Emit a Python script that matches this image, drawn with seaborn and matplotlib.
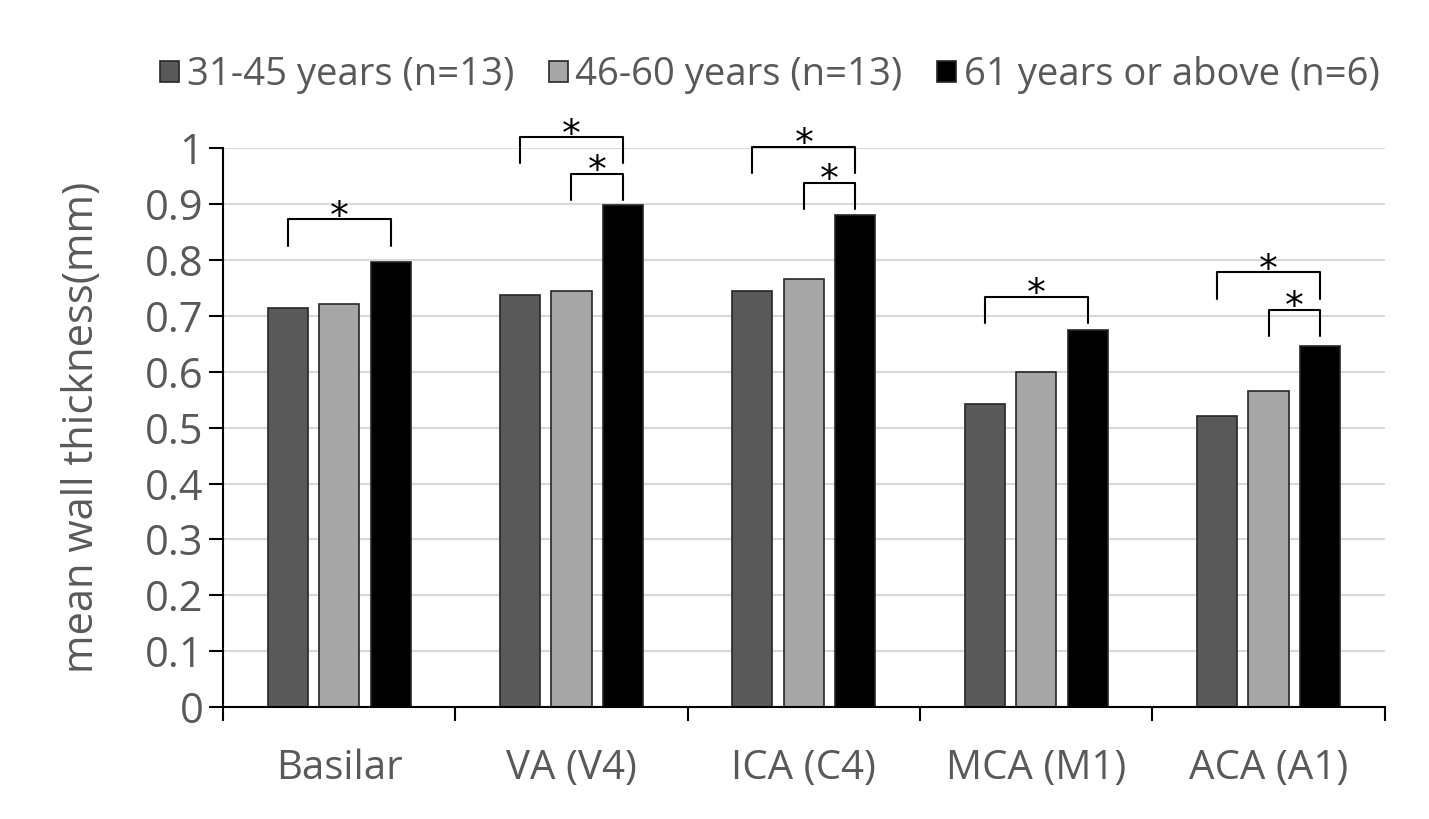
import matplotlib
matplotlib.use('Agg')
import pandas as pd
import matplotlib.pyplot as plt
import seaborn as sns
from matplotlib.patches import Patch

# data
arteries = ['Basilar', 'VA (V4)', 'ICA (C4)', 'MCA (M1)', 'ACA (A1)']
groups = ['31-45 years (n=13)', '46-60 years (n=13)', '61 years or above (n=6)']
age_31_45 = [0.714, 0.737, 0.744, 0.542, 0.521]
age_46_60 = [0.721, 0.744, 0.766, 0.599, 0.565]
age_61_up = [0.796, 0.898, 0.880, 0.674, 0.646]

y_ticks = [0, 0.1, 0.2, 0.3, 0.4, 0.5, 0.6, 0.7, 0.8, 0.9, 1.0]
y_tick_labels = ['0', '0.1', '0.2', '0.3', '0.4', '0.5', '0.6', '0.7', '0.8', '0.9', '1']

# significance brackets: artery index, from group, to group, bracket top
bracket_artery = [0, 1, 1, 2, 2, 3, 4, 4]
bracket_from = [0, 0, 1, 0, 1, 0, 0, 1]
bracket_to = [2, 2, 2, 2, 2, 2, 2, 2]
bracket_top = [0.873, 1.020, 0.955, 1.003, 0.938, 0.734, 0.778, 0.711]

colors = ['#595959', '#a6a6a6', '#000000']
text_grey = '#595959'

sns.set_theme(style='white')
plt.rcParams['font.family'] = ['Open Sans', 'DejaVu Sans']

rows = []
for vals, g in zip([age_31_45, age_46_60, age_61_up], groups):
    for a, v in zip(arteries, vals):
        rows.append({'artery': a, 'group': g, 'thickness': v})
df = pd.DataFrame(rows)

fig = plt.figure(figsize=(14.29, 8.19), dpi=100)
ax = fig.add_axes([0.156, 0.1368, 0.813, 0.682])

bar_width = 0.665
sns.barplot(data=df, x='artery', y='thickness', hue='group', palette=colors,
            width=bar_width, gap=0.22, edgecolor='#262626', linewidth=1.2,
            errorbar=None, legend=False, ax=ax)

ax.set_xlim(-0.5, 4.5)
ax.set_ylim(0, 1)
ax.set_xlabel('')
ax.set_ylabel('mean wall thickness(mm)', fontsize=30, color=text_grey)
ax.yaxis.set_label_coords(-0.103, 0.5)

ax.set_yticks(y_ticks)
ax.set_yticklabels(y_tick_labels)
ax.tick_params(axis='y', length=10, width=1.5, color='black', direction='out',
               labelsize=30, labelcolor=text_grey, pad=4, left=True)

ax.set_xticks(range(len(arteries)))
ax.set_xticklabels(arteries)
ax.set_xticks([i - 0.5 for i in range(len(arteries) + 1)], minor=True)
ax.tick_params(axis='x', which='major', length=0, pad=30,
               labelsize=29, labelcolor=text_grey)
ax.tick_params(axis='x', which='minor', length=10, width=1.5, color='black',
               direction='out', bottom=True)

ax.yaxis.grid(True, color='#d9d9d9', linewidth=1.5)
ax.set_axisbelow(True)
for s in ['top', 'right']:
    ax.spines[s].set_visible(False)
for s in ['left', 'bottom']:
    ax.spines[s].set_color('black')
    ax.spines[s].set_linewidth(1.5)

# brackets with asterisks
step = bar_width / 3
leg = 0.047
for a, g1, g2, top in zip(bracket_artery, bracket_from, bracket_to, bracket_top):
    x1 = a + (g1 - 1) * step
    x2 = a + (g2 - 1) * step
    ax.plot([x1, x1, x2, x2], [top - leg, top, top, top - leg],
            color='black', lw=1.5, clip_on=False)
    ax.annotate('*', xy=((x1 + x2) / 2, top), xytext=(0, -6),
                textcoords='offset points', ha='center', va='baseline',
                fontsize=27, family='DejaVu Sans', color='black',
                annotation_clip=False)

handles = [Patch(facecolor=c, edgecolor='#262626', linewidth=1.2) for c in colors]
fig.legend(handles, groups, loc='center', bbox_to_anchor=(770 / 1429, 1 - 75 / 819),
           ncol=3, frameon=False, fontsize=27.5, handlelength=0.5, handleheight=0.5,
           handletextpad=0.2, columnspacing=0.9, labelcolor=text_grey)

fig.savefig('out.png', dpi=100)
